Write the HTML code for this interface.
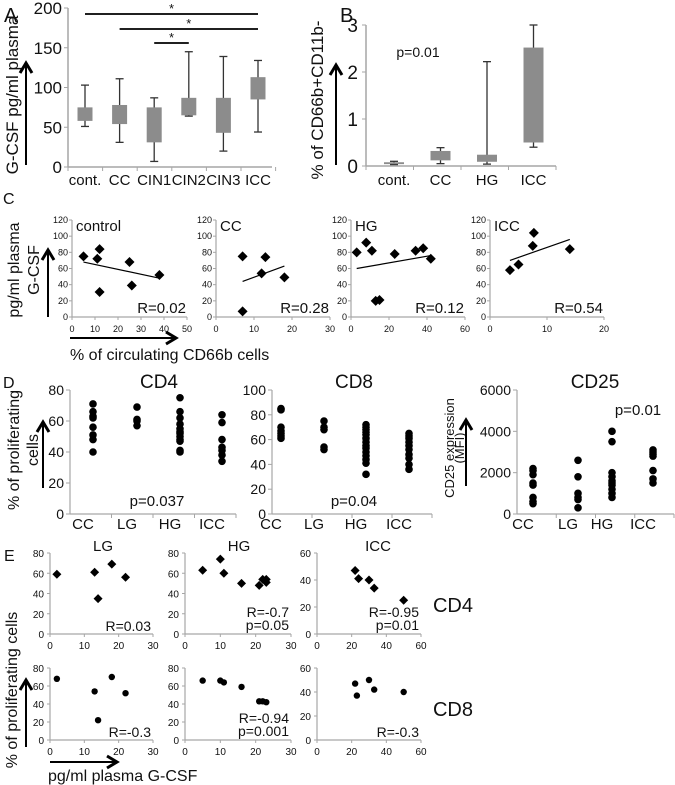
<!DOCTYPE html>
<html><head><meta charset="utf-8">
<style>
html,body{margin:0;padding:0;background:#fff;}
svg{display:block;font-family:"Liberation Sans",sans-serif;}
text{fill:#111;}
</style></head>
<body>
<svg id="fig" width="675" height="785" viewBox="0 0 675 785" xmlns="http://www.w3.org/2000/svg"></svg>
<script>
// ---------- Panel A data ----------
const aCats = ["cont.","CC","CIN1","CIN2","CIN3","ICC"];
const aWhiskLow = [51,31,7,64,20,44];
const aWhiskHigh = [103,111,87,145,139,134];
const aBoxLow = [58,54,31,65,43,85];
const aBoxHigh = [75,78,75,87,87,113];
const aTicks = [0,50,100,150,200];
// ---------- Panel B data ----------
const bCats = ["cont.","CC","HG","ICC"];
const bWhiskLow = [0.03,0.05,0.04,0.4];
const bWhiskHigh = [0.1,0.39,2.22,3.0];
const bBoxLow = [0.04,0.12,0.09,0.5];
const bBoxHigh = [0.08,0.32,0.24,2.52];
const bTicks = [0,1,2,3];
// ---------- Panel C data ----------
const cTitles = ["control","CC","HG","ICC"];
const cR = ["R=0.02","R=0.28","R=0.12","R=0.54"];
const cXMax = [50,30,60,20];
const cXTicks = [[0,10,20,30,40,50],[0,10,20,30],[0,20,40,60],[0,10,20]];
const cYTicks = [0,20,40,60,80,100,120];
const cX = [[5,11,12,12,25,26,38],[7,7,12,13,18],[3,8,11,13,15,23,34,38,42],[3.5,5,7.5,7.7,14]];
const cY = [[75,72,84,31,68,39,52],[75,7,54,74,49],[80,92,82,20,21,78,82,85,72],[58,65,88,104,84]];
const cFitX = [[5,38],[7,18],[3,42],[3.5,14]];
const cFitY = [[68,48],[44,63],[60,76],[70,96]];
// ---------- Panel D data ----------
const dCats = ["CC","LG","HG","ICC"];
const dTitles = ["CD4","CD8","CD25"];
const dP = ["p=0.037","p=0.04","p=0.01"];
const dYMax = [80,100,6000];
const dYTicks = [[0,20,40,60,80],[0,20,40,60,80,100],[0,2000,4000,6000]];
const dCD4 = [[40,48,51,56,62,63,66,71],[57,60,61,69],[40,41,47,48,50,52,53,55,58,62,66,75],[34,38,41,43,48,59,64]];
const dCD8 = [[61,63,65,67,70,84,85],[52,54,68,70,75],[32,41,44,47,50,53,55,58,61,64,66,68,70,72],[36,40,45,48,52,55,58,61,63,65]];
const dCD25 = [[500,600,800,1400,1500,1900,2100,2200],[300,700,800,1000,1800,2600],[800,1000,1200,1400,1500,1600,1800,2000,3500,4000],[1500,1700,2100,2800,2900,3000,3100]];
// ---------- Panel E data ----------
const eTitles = ["LG","HG","ICC"];
const eXMax = [30,30,60];
const eYMax = [80,80,60];
const eXTicks = [[0,10,20,30],[0,10,20,30],[0,20,40,60]];
const eYTicks = [[0,20,40,60,80],[0,20,40,60,80],[0,20,40,60]];
const eCD4X = [[2,13,14,18,22],[5,10,11,16,21,22,23,23],[22,24,30,33,50]];
const eCD4Y = [[59,61,35,69,56],[63,74,60,50,48,54,54,51],[47,41,40,34,25]];
const eCD8X = [[2,13,14,18,22],[5,10,11,16,21,22,23],[22,23,30,33,50]];
const eCD8Y = [[68,54,22,70,52],[66,66,64,59,43,43,42],[47,37,50,42,40]];
const eR4 = [["R=0.03"],["R=-0.7","p=0.05"],["R=-0.95","p=0.01"]];
const eR8 = [["R=-0.3"],["R=-0.94","p=0.001"],["R=-0.3"]];

const NS="http://www.w3.org/2000/svg";
const svg=document.getElementById('fig');
function mk(tag,attrs,parent){const e=document.createElementNS(NS,tag);for(const k in attrs)e.setAttribute(k,attrs[k]);(parent||svg).appendChild(e);return e;}
function txt(s,x,y,size,anchor,parent,rot){const t=mk('text',{x:x,y:y,'font-size':size,'text-anchor':anchor||'start'},parent);if(rot)t.setAttribute('transform','rotate(-90 '+x+' '+y+')');t.textContent=s;return t;}
function lin(x1,y1,x2,y2,stroke,w,parent){return mk('line',{x1:x1,y1:y1,x2:x2,y2:y2,stroke:stroke,'stroke-width':w},parent);}
function arrowUp(x,y1,y2,parent){lin(x,y1,x,y2+2,'#000',2,parent);mk('path',{d:'M'+(x-6)+' '+(y2+10)+' L'+x+' '+y2+' L'+(x+6)+' '+(y2+10),fill:'none',stroke:'#000','stroke-width':3},parent);}
function arrowRight(x1,x2,y,parent){lin(x1,y,x2-2,y,'#000',2,parent);mk('path',{d:'M'+(x2-10)+' '+(y-6)+' L'+x2+' '+y+' L'+(x2-10)+' '+(y+6),fill:'none',stroke:'#000','stroke-width':3},parent);}
const AX='#a6a6a6';

// ===== Panel A =====
(function(){
const g=mk('g',{});
const x0=68,x1=272,yb=167,yt=8,max=200;
const ys=v=>yb-(v/max)*(yb-yt);
const xs=i=>85+i*34.6;
lin(x0,yt,x0,yb,AX,1.5,g);lin(x0,yb,x1,yb,AX,1.5,g);
aTicks.forEach(t=>{lin(x0-4,ys(t),x0,ys(t),AX,1,g);txt(String(t),x0-6,ys(t)+6,17,'end',g);});
for(let i=0;i<=aCats.length;i++){const xx=68+i*34.6;lin(xx,yb,xx,yb+4,AX,1,g);}
aCats.forEach((c,i)=>{
 const cx=xs(i);
 const w=lin(cx,ys(aWhiskLow[i]),cx,ys(aWhiskHigh[i]),'#333',1.3,g);
 lin(cx-4,ys(aWhiskLow[i]),cx+4,ys(aWhiskLow[i]),'#333',1.3,g);
 lin(cx-4,ys(aWhiskHigh[i]),cx+4,ys(aWhiskHigh[i]),'#333',1.3,g);
 const r=mk('rect',{x:cx-7.5,y:ys(aBoxHigh[i]),width:15,height:ys(aBoxLow[i])-ys(aBoxHigh[i]),fill:'#8c8c8c'},g);
 
 txt(c,cx,185,15,'middle',g);
});
[[0,5,14],[1,5,29],[2,3,43]].forEach(s=>{lin(xs(s[0]),s[2],xs(s[1]),s[2],'#000',1.8,g);txt('*',(xs(s[0])+xs(s[1]))/2,s[2]-1,13,'middle',g);});
txt('A',4,22,20,'start',g);
txt('G-CSF pg/ml plasma',18,95,17,'middle',g,true);
arrowUp(26,165,63,g);
})();

// ===== Panel B =====
(function(){
const g=mk('g',{});
const x0=366,x1=556,yb=166,yt=25,max=3;
const ys=v=>yb-(v/max)*(yb-yt);
const xs=i=>394+i*46.5;
lin(x0,yt,x0,yb,AX,1.5,g);lin(x0,yb,x1,yb,AX,1.5,g);
bTicks.forEach(t=>{lin(x0-4,ys(t),x0,ys(t),AX,1,g);txt(String(t),x0-8,ys(t)+7,19,'end',g);});
for(let i=0;i<=bCats.length;i++){const xx=x0+i*47.5;lin(xx,yb,xx,yb+4,AX,1,g);}
bCats.forEach((c,i)=>{
 const cx=xs(i);
 lin(cx,ys(bWhiskLow[i]),cx,ys(bWhiskHigh[i]),'#333',1.3,g);
 lin(cx-4,ys(bWhiskLow[i]),cx+4,ys(bWhiskLow[i]),'#333',1.3,g);
 lin(cx-4,ys(bWhiskHigh[i]),cx+4,ys(bWhiskHigh[i]),'#333',1.3,g);
 const r=mk('rect',{x:cx-10,y:ys(bBoxHigh[i]),width:20,height:Math.max(1,ys(bBoxLow[i])-ys(bBoxHigh[i])),fill:'#8c8c8c'},g);
 
 txt(c,cx,185,15,'middle',g);
});
txt('p=0.01',418,57,14,'middle',g);
txt('B',340,22,20,'start',g);
txt('% of CD66b+CD11b-',323,100,17,'middle',g,true);
arrowUp(336,165,65,g);
})();

// ===== Panel C =====
(function(){
const g=mk('g',{});
const lefts=[72,216,351,490],width=[115,114,114,114],yb=317,yt=220;
txt('C',3,204,16,'start',g);
cTitles.forEach((tt,k)=>{
 const sg=mk('g',{},g);
 const x0=lefts[k],xw=width[k];
 const xs=v=>x0+v/cXMax[k]*xw, ys=v=>yb-v/120*(yb-yt);
 lin(x0,yt,x0,yb,AX,1.2,sg);lin(x0,yb,x0+xw,yb,AX,1.2,sg);
 cYTicks.forEach(t=>{lin(x0-3,ys(t),x0,ys(t),AX,1,sg);txt(String(t),x0-4,ys(t)+3,9,'end',sg);});
 cXTicks[k].forEach(t=>{lin(xs(t),yb,xs(t),yb+3,AX,1,sg);txt(String(t),xs(t),332,9,'middle',sg);});
 cX[k].forEach((v,i)=>{const cx=xs(v),cy=ys(cY[k][i]);
  const p=mk('path',{d:'M'+cx+' '+(cy-5)+' L'+(cx+5)+' '+cy+' L'+cx+' '+(cy+5)+' L'+(cx-5)+' '+cy+'Z',fill:'#000'},sg);
  });
 const f=lin(xs(cFitX[k][0]),ys(cFitY[k][0]),xs(cFitX[k][1]),ys(cFitY[k][1]),'#000',1.2,sg);
 
 txt(tt,x0+4,231,15,'start',sg);
 txt(cR[k],x0+xw-1,313,15,'end',sg);
});
txt('pg/ml plasma',19,270,16,'middle',g,true);
txt('G-CSF',39,270,16,'middle',g,true);
arrowUp(48,317,250,g);
arrowRight(70,176,338,g);
txt('% of circulating CD66b cells',70,360,16,'start',g);
})();

// ===== Panel D =====
(function(){
const g=mk('g',{});
const cfg=[{x0:70,x1:236,dx:[93,137,180,222],data:dCD4},{x0:272,x1:432,dx:[281,324,366,409],data:dCD8},{x0:517,x1:674,dx:[533,578,612,653],data:dCD25}];
const yb=514,yt=390;
txt('D',3,388,16,'start',g);
cfg.forEach((c,k)=>{
 const sg=mk('g',{},g);
 const ys=v=>yb-v/dYMax[k]*(yb-yt);
 lin(c.x0,yt,c.x0,yb,AX,1.2,sg);lin(c.x0,yb,c.x1,yb,AX,1.2,sg);
 dYTicks[k].forEach(t=>{lin(c.x0-4,ys(t),c.x0,ys(t),AX,1,sg);txt(String(t),c.x0-6,ys(t)+5,14,'end',sg);});
 for(let i=0;i<4;i++){const xx=c.x0+(i+1)*(c.x1-c.x0)/4;lin(xx,yb,xx,yb+4,AX,1,sg);}
 dCats.forEach((cat,i)=>{
  txt(cat,c.dx[i]-10,529,15,'middle',sg);
  c.data[i].forEach(v=>{const d=mk('circle',{cx:c.dx[i],cy:ys(v),r:3.8,fill:'#000'},sg);});
 });
 txt(dTitles[k],[159,354,595][k],388,19,'middle',sg);
});
txt('p=0.037',157,506,15,'middle',g);
txt('p=0.04',354,506,15,'middle',g);
txt('p=0.01',638,415,15,'middle',g);
txt('% of proliferating',19,450,16,'middle',g,true);
txt('cells',38,450,16,'middle',g,true);
arrowUp(43,488,422,g);
txt('CD25 expression',454,448,13,'middle',g,true);
txt('(MFI)',464,448,13,'middle',g,true);
arrowUp(466,486,420,g);
})();

// ===== Panel E =====
(function(){
const g=mk('g',{});
const lefts=[50,185,317],xw=[103,106,104];
const rows=[{yt:553,yb:634,lab:649,X:eCD4X,Y:eCD4Y,R:eR4,diamond:true,name:'CD4'},{yt:668,yb:740,lab:755,X:eCD8X,Y:eCD8Y,R:eR8,diamond:false,name:'CD8'}];
txt('E',4,561,16,'start',g);
rows.forEach((row,r)=>{
 eTitles.forEach((tt,k)=>{
  const sg=mk('g',{},g);
  const x0=lefts[k];
  const xs=v=>x0+v/eXMax[k]*xw[k], ys=v=>row.yb-v/eYMax[k]*(row.yb-row.yt);
  lin(x0,row.yt,x0,row.yb,AX,1.2,sg);lin(x0,row.yb,x0+xw[k],row.yb,AX,1.2,sg);
  eYTicks[k].forEach(t=>{lin(x0-3,ys(t),x0,ys(t),AX,1,sg);txt(String(t),x0-6,ys(t)+4,10,'end',sg);});
  eXTicks[k].forEach(t=>{lin(xs(t),row.yb,xs(t),row.yb+3,AX,1,sg);txt(String(t),xs(t),row.lab,10,'middle',sg);});
  row.X[k].forEach((v,i)=>{const cx=xs(v),cy=ys(row.Y[k][i]);let p;
   if(row.diamond)p=mk('path',{d:'M'+cx+' '+(cy-4.5)+' L'+(cx+4.5)+' '+cy+' L'+cx+' '+(cy+4.5)+' L'+(cx-4.5)+' '+cy+'Z',fill:'#000'},sg);
   else p=mk('circle',{cx:cx,cy:cy,r:3.2,fill:'#000'},sg);
   });
  const lines=row.R[k];
  const base=lines.length===2?row.yb-17:row.yb-3;
  lines.forEach((s,j)=>txt(s,x0+xw[k]-2,base+j*13,14,'end',sg));
  if(r===0)txt(tt,[103,239,378][k],551,15,'middle',sg);
 });
});
txt('CD4',453,612,20,'middle',g);
txt('CD8',453,716,20,'middle',g);
txt('% of proliferating cells',17,690,16,'middle',g,true);
arrowUp(26,747,680,g);
arrowRight(50,117,762,g);
txt('pg/ml plasma G-CSF',48,781,16,'start',g);
})();
</script>
</body></html>
